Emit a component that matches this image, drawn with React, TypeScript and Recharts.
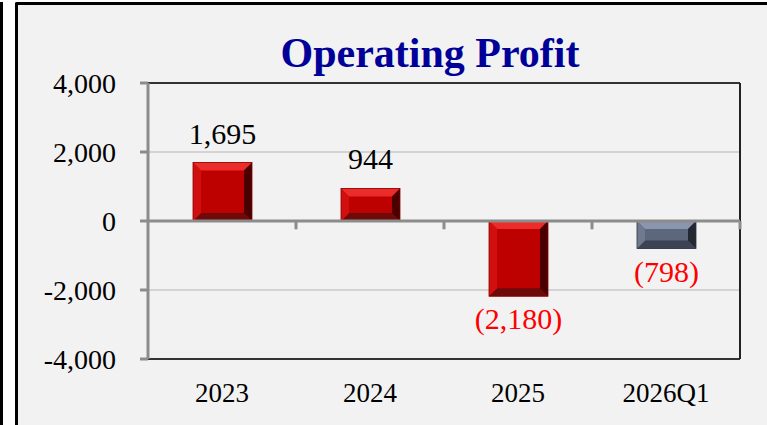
import React from "react";
import { BarChart, Bar, XAxis, YAxis, CartesianGrid, ReferenceLine, LabelList } from "recharts";

const categories = ["2023", "2024", "2025", "2026Q1"];
const operatingProfit = [1695, 944, -2180, -798];
const yTicks = [-4000, -2000, 0, 2000, 4000];

const data = categories.map((period, i) => ({ period, value: operatingProfit[i] }));

const FONT = "'Liberation Serif', 'Times New Roman', serif";

const RED = { face: "#bd0000", top: "#ec2b2b", left: "#d10f0f", right: "#4a0000", bottom: "#6e0a0a", edge: "#8a0000" };
const SLATE = { face: "#5d677c", top: "#8a96ad", left: "#6f7a91", right: "#232833", bottom: "#3b4354", edge: "#2e3440" };

const fmt = (v: number) => (v < 0 ? `(${Math.abs(v).toLocaleString("en-US")})` : v.toLocaleString("en-US"));

// beveled block like the office 3d bar style
function BevelBar(props: any) {
  const { x, y, width, height, index } = props;
  if (x == null || !width || !height) return null;
  const top = Math.min(y, y + height);
  const h = Math.abs(height);
  const w = width;
  const l = x;
  const b = Math.min(8, h / 2, w / 2);
  const c = index === categories.length - 1 ? SLATE : RED;
  return (
    <g>
      <rect x={l} y={top} width={w} height={h} fill={c.face} />
      <polygon points={`${l},${top} ${l + w},${top} ${l + w - b},${top + b} ${l + b},${top + b}`} fill={c.top} />
      <polygon points={`${l},${top + h} ${l + w},${top + h} ${l + w - b},${top + h - b} ${l + b},${top + h - b}`} fill={c.bottom} />
      <polygon points={`${l},${top} ${l + b},${top + b} ${l + b},${top + h - b} ${l},${top + h}`} fill={c.left} />
      <polygon points={`${l + w},${top} ${l + w - b},${top + b} ${l + w - b},${top + h - b} ${l + w},${top + h}`} fill={c.right} />
      <rect x={l} y={top} width={w} height={h} fill="none" stroke={c.edge} strokeWidth={0.8} />
    </g>
  );
}

function ValueLabel(props: any) {
  const vb = props.viewBox || {};
  const x = props.x ?? vb.x;
  const y = props.y ?? vb.y;
  const width = props.width ?? vb.width;
  const height = props.height ?? vb.height;
  const value = Number(props.value);
  const top = Math.min(y, y + height);
  const bottom = Math.max(y, y + height);
  const neg = value < 0;
  return (
    <text
      x={x + width / 2}
      y={neg ? bottom + 33 : top - 19}
      textAnchor="middle"
      fontFamily={FONT}
      fontSize={30}
      fill={neg ? "#ff0000" : "#000000"}
    >
      {fmt(value)}
    </text>
  );
}

export default function App() {
  return (
    <div style={{ position: "absolute", left: 0, top: 0, width: 767, height: 425, background: "#ffffff", overflow: "hidden" }}>
      {/* frame edges */}
      <div style={{ position: "absolute", left: 0, top: 2, width: 3, height: 430, background: "#000" }} />
      <div
        style={{
          position: "absolute", left: 15, top: 2, width: 800, height: 440,
          borderLeft: "3px solid #000", borderTop: "3px solid #000", borderTopLeftRadius: 2,
          background: "#f2f2f2",
        }}
      />
      <BarChart
        width={767}
        height={425}
        data={data}
        margin={{ top: 83, right: 27, bottom: 26, left: 8 }}
        style={{ position: "absolute", left: 0, top: 0 }}
      >
        <CartesianGrid vertical={false} horizontalValues={[2000, -2000]} stroke="#d3d3d3" strokeWidth={2} />
        <XAxis
          dataKey="period"
          height={40}
          axisLine={false}
          tickLine={false}
          tickSize={6}
          tickMargin={18}
          tick={{ fontFamily: FONT, fontSize: 27, fill: "#000" }}
        />
        <YAxis
          width={140}
          domain={[-4000, 4000]}
          ticks={yTicks}
          tickFormatter={(v: number) => v.toLocaleString("en-US")}
          axisLine={{ stroke: "#8c8c8c", strokeWidth: 3 }}
          tickLine={{ stroke: "#8c8c8c", strokeWidth: 3 }}
          tickSize={8}
          tickMargin={24}
          tick={{ fontFamily: FONT, fontSize: 28, fill: "#000" }}
        />
        <ReferenceLine y={4000} stroke="#333" strokeWidth={2} ifOverflow="visible" />
        <ReferenceLine y={-4000} stroke="#333" strokeWidth={2} ifOverflow="visible" />
        <ReferenceLine x="2026Q1" position="end" stroke="#222" strokeWidth={2} ifOverflow="visible" />
        <Bar dataKey="value" barSize={59} shape={BevelBar} isAnimationActive={false}>
          <LabelList dataKey="value" content={ValueLabel} />
        </Bar>
        <ReferenceLine y={0} stroke="#8c8c8c" strokeWidth={3} />
        {["2024", "2025", "2026Q1"].map((c) => (
          <ReferenceLine
            key={c}
            position="start"
            segment={[{ x: c, y: 0 }, { x: c, y: -240 }]}
            stroke="#8c8c8c"
            strokeWidth={3}
            ifOverflow="visible"
          />
        ))}
        <ReferenceLine
          position="end"
          segment={[{ x: "2026Q1", y: 0 }, { x: "2026Q1", y: -240 }]}
          stroke="#8c8c8c"
          strokeWidth={3}
          ifOverflow="visible"
        />
      </BarChart>
      <svg width={767} height={425} style={{ position: "absolute", left: 0, top: 0, pointerEvents: "none" }}>
        <text x={430} y={67} textAnchor="middle" fontFamily={FONT} fontWeight="bold" fontSize={42} fill="#000099">
          Operating Profit
        </text>
      </svg>
    </div>
  );
}
